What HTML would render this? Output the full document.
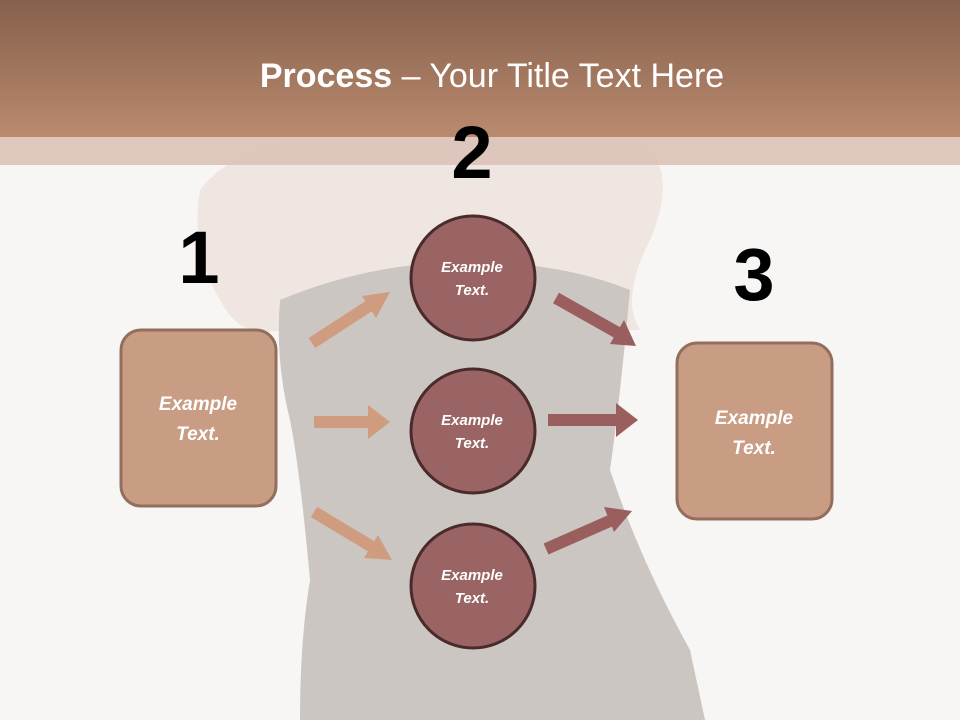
<!DOCTYPE html>
<html><head><meta charset="utf-8"><style>
html,body{margin:0;padding:0}
body{width:960px;height:720px;overflow:hidden;background:#f8f6f4;font-family:"Liberation Sans",sans-serif}
svg{display:block}
</style></head><body>
<svg width="960" height="720" viewBox="0 0 960 720">
<defs>
<linearGradient id="hd" x1="0" y1="0" x2="0" y2="1">
<stop offset="0" stop-color="#86604c"/><stop offset="1" stop-color="#ba8a6e"/>
</linearGradient>
</defs>
<rect width="960" height="720" fill="#f8f6f4"/>
<!-- faint skin/arms -->
<path d="M200 190 Q230 150 300 140 L640 140 Q680 170 650 240 Q620 300 640 330 L280 330 Q240 340 220 300 Q190 250 200 190Z" fill="#efe6e1"/>
<!-- dress silhouette -->
<path d="M280 300 Q370 262 470 262 Q560 262 630 290 Q620 400 610 470 Q640 560 690 650 L705 720 L300 720 Q300 640 310 580 Q300 470 290 420 Q275 360 280 300Z" fill="#cbc6c2"/>
<!-- header -->
<rect x="0" y="0" width="960" height="137" fill="url(#hd)"/>
<rect x="0" y="137" width="960" height="28" fill="#dcc2b8" opacity="0.9"/>
<text x="492" y="87" text-anchor="middle" font-size="34" fill="#ffffff" font-family="Liberation Sans,sans-serif"><tspan font-weight="bold">Process</tspan> – Your Title Text Here</text>
<!-- numbers -->
<g font-weight="bold" font-size="74" fill="#000" text-anchor="middle">
<text x="199" y="283">1</text><text x="472" y="178">2</text><text x="754" y="300">3</text>
</g>
<!-- arrows left -->
<g fill="#d09c80" stroke="none">
<line x1="312" y1="343" x2="372" y2="304" stroke="#d09c80" stroke-width="12"/>
<polygon points="390,292 362,296 376,318"/>
<line x1="314" y1="422" x2="370" y2="422" stroke="#d09c80" stroke-width="12"/>
<polygon points="390,422 368,405 368,439"/>
<line x1="314" y1="512" x2="374" y2="548" stroke="#d09c80" stroke-width="12"/>
<polygon points="392,560 378,535 364,558"/>
</g>
<g fill="#9b5e5e">
<line x1="556" y1="298" x2="618" y2="333" stroke="#9b5e5e" stroke-width="12"/>
<polygon points="636,346 624,320 610,344"/>
<line x1="548" y1="420" x2="616" y2="420" stroke="#9b5e5e" stroke-width="12"/>
<polygon points="638,420 616,403 616,437"/>
<line x1="546" y1="549" x2="612" y2="520" stroke="#9b5e5e" stroke-width="12"/>
<polygon points="632,511 604,507 614,532"/>
</g>
<!-- boxes -->
<rect x="121" y="330" width="155" height="176" rx="20" fill="#c99d84" stroke="#926e5c" stroke-width="3"/>
<rect x="677" y="343" width="155" height="176" rx="20" fill="#c99d84" stroke="#926e5c" stroke-width="3"/>
<g fill="#fff" font-weight="bold" font-style="italic" text-anchor="middle" font-size="19">
<text x="198" y="410">Example</text><text x="198" y="440">Text.</text>
<text x="754" y="424">Example</text><text x="754" y="454">Text.</text>
</g>
<!-- circles -->
<g fill="#9a6464" stroke="#4a2a2a" stroke-width="3">
<circle cx="473" cy="278" r="62"/><circle cx="473" cy="431" r="62"/><circle cx="473" cy="586" r="62"/>
</g>
<g fill="#fff" font-weight="bold" font-style="italic" text-anchor="middle" font-size="15">
<text x="472" y="272">Example</text><text x="472" y="295">Text.</text>
<text x="472" y="425">Example</text><text x="472" y="448">Text.</text>
<text x="472" y="580">Example</text><text x="472" y="603">Text.</text>
</g>
</svg>
</body></html>
